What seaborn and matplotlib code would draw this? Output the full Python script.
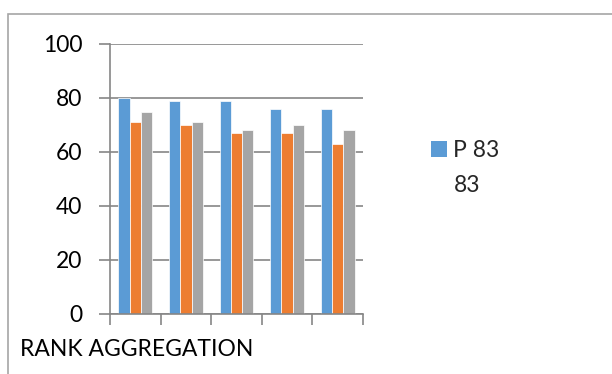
import matplotlib
matplotlib.use("Agg")
import matplotlib.pyplot as plt
from matplotlib.patches import Patch, Rectangle
import pandas as pd
import seaborn as sns

# Data: five groups, three series each
categories = ["1", "2", "3", "4", "5"]
series_names = ["P 83 83", "Series 2", "Series 3"]
p83 = [80, 79, 79, 76, 76]
series2 = [71, 70, 67, 67, 63]
series3 = [75, 71, 68, 70, 68]
y_ticks = [0, 20, 40, 60, 80, 100]
colors = ["#5B9BD5", "#ED7D31", "#A5A5A5"]

df = pd.DataFrame({
    "group": categories * 3,
    "series": [series_names[0]] * 5 + [series_names[1]] * 5 + [series_names[2]] * 5,
    "value": p83 + series2 + series3,
})

sns.set_theme(style="white")
plt.rcParams["font.family"] = ["Lato", "DejaVu Sans"]

W, H = 612, 374
fig = plt.figure(figsize=(W / 100, H / 100), dpi=100)
ax = fig.add_axes([110 / W, 1 - 314 / H, (363 - 110) / W, (314 - 44) / H])

grid_color = "#868686"
fs = 16.5

sns.barplot(data=df, x="group", y="value", hue="series", order=categories,
            hue_order=series_names, palette=colors, width=0.67, gap=0,
            saturation=1, edgecolor="white", linewidth=0.5, legend=False, ax=ax)

ax.set_xlim(-0.5, len(categories) - 0.5)
ax.set_ylim(0, 100)
ax.set_yticks(y_ticks)
ax.set_yticklabels([str(t) for t in y_ticks], fontsize=fs, color="#000000")
ax.yaxis.grid(True, color=grid_color, linewidth=1.2)
ax.set_axisbelow(True)
ax.tick_params(axis="y", length=8, width=1.2, color=grid_color, pad=12, left=True)

# category boundaries carry the x tick marks, no labels
ax.set_xticks([i - 0.5 for i in range(len(categories) + 1)])
ax.set_xticklabels([])
ax.tick_params(axis="x", length=8, width=1.2, color=grid_color, bottom=True)

for side in ["top", "right"]:
    ax.spines[side].set_visible(False)
for side in ["left", "bottom"]:
    ax.spines[side].set_color(grid_color)
    ax.spines[side].set_linewidth(1.2)

ax.set_ylabel("")
ax.set_xlabel("RANK AGGREGATION", fontsize=fs, color="#000000", ha="left", va="center")
ax.xaxis.set_label_coords((20 - 110) / 253, -0.13)

handles = [Patch(facecolor=colors[0], edgecolor="none"),
           Patch(facecolor="none", edgecolor="none")]
fig.legend(handles=handles, labels=["P 83", "83"], loc="upper left",
           bbox_to_anchor=(431 / W, 1 - 140 / H), frameon=False, fontsize=fs,
           handlelength=0.68, handleheight=0.68, handletextpad=0.3, labelspacing=0.62,
           borderaxespad=0, borderpad=0)

# chart frame
fig.add_artist(Rectangle((8 / W, -0.5), 2.0, 0.5 + 1 - 14 / H, transform=fig.transFigure,
                         fill=False, edgecolor="#A6A6A6", linewidth=1.2))

fig.savefig("out.png", dpi=100)
